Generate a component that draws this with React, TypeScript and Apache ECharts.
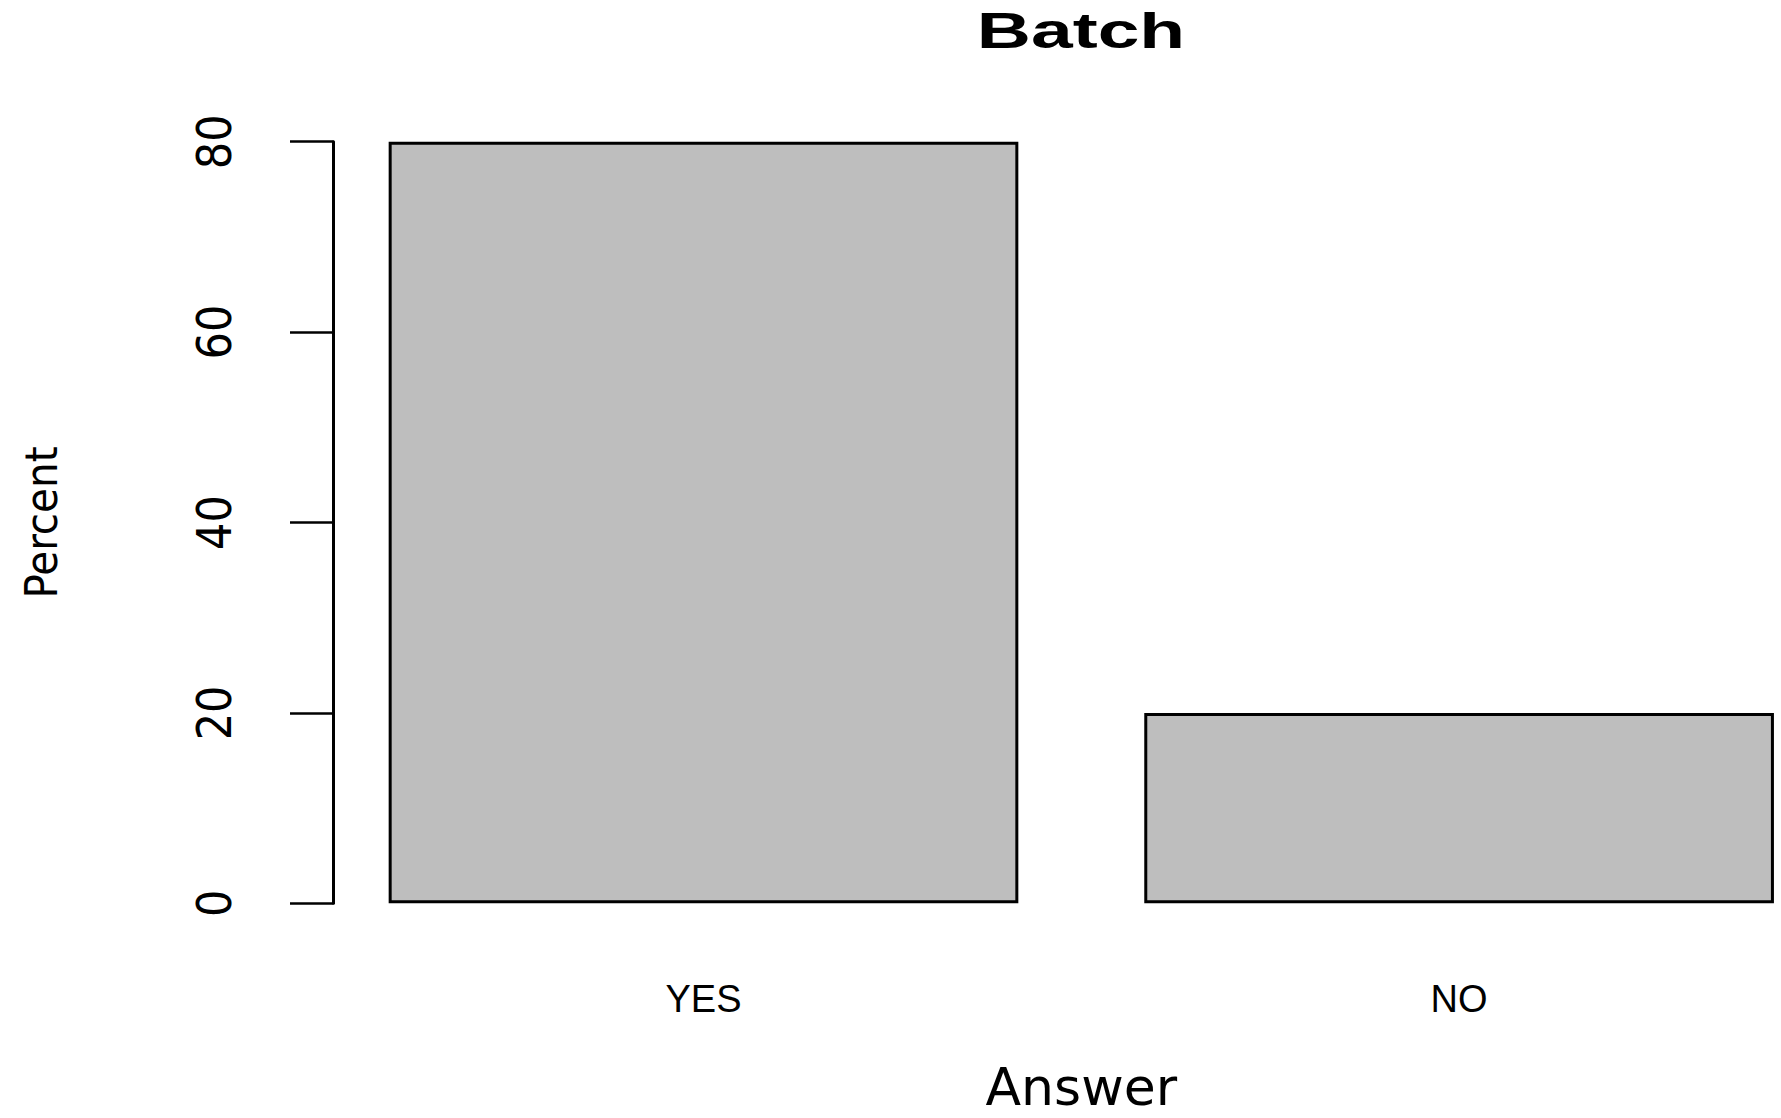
import React, { useEffect, useRef } from "react";
import * as echarts from "echarts";

const categories = ["YES", "NO"];
const percentValues = [80, 20];
const yMin = 0;
const yMax = 80;
const yInterval = 20;
const titleText = "Batch";
const xAxisName = "Answer";
const yAxisName = "Percent";

const narrow = "'Liberation Sans Narrow', 'DejaVu Sans Condensed', 'Liberation Sans', Arial, sans-serif";
const sans = "'Liberation Sans', Arial, Helvetica, sans-serif";

export default function App() {
  const ref = useRef<HTMLDivElement>(null);
  useEffect(() => {
    const chart = echarts.init(ref.current!, null, { renderer: "svg" });
    chart.setOption({
      animation: false,
      backgroundColor: "#ffffff",
      graphic: [
        {
          type: "text",
          x: 1081,
          y: 31,
          scaleX: 1.5,
          style: {
            text: titleText,
            font: "bold 50px 'Liberation Sans', Arial, sans-serif",
            align: "center",
            verticalAlign: "middle",
            textAlign: "center",
            textVerticalAlign: "middle",
            fill: "#000000",
          },
        },
      ],
      grid: {
        left: 325.7,
        width: 1511.2,
        top: 141.7,
        height: 761.6,
        containLabel: false,
        outerBoundsMode: "none",
      },
      xAxis: {
        type: "category",
        data: categories,
        axisLine: { show: false },
        axisTick: { show: false },
        splitLine: { show: false },
        axisLabel: { margin: 77, fontSize: 38, fontFamily: sans, color: "#000000" },
        name: xAxisName,
        nameLocation: "middle",
        nameGap: 158,
        nameTextStyle: { fontSize: 52, fontFamily: "'DejaVu Sans', sans-serif", color: "#000000" },
      },
      yAxis: {
        type: "value",
        min: yMin,
        max: yMax,
        interval: yInterval,
        offset: -7.8,
        splitLine: { show: false },
        axisLine: { show: true, lineStyle: { color: "#000000", width: 3 } },
        axisTick: { show: true, length: 43.5, lineStyle: { color: "#000000", width: 2.5 } },
        axisLabel: { rotate: 90, margin: 96, fontSize: 48, fontFamily: narrow, color: "#000000" },
        name: yAxisName,
        nameLocation: "middle",
        nameRotate: 90,
        nameGap: 270,
        nameTextStyle: { fontSize: 45, fontFamily: narrow, color: "#000000" },
      },
      series: [
        {
          type: "bar",
          data: percentValues,
          barWidth: "83.3333%",
          itemStyle: { color: "#bebebe", borderColor: "#000000", borderWidth: 3 },
        },
      ],
    });
    return () => chart.dispose();
  }, []);
  return (
    <div
      ref={ref}
      style={{ position: "absolute", left: 0, top: 0, width: 1781, height: 1118 }}
    />
  );
}
